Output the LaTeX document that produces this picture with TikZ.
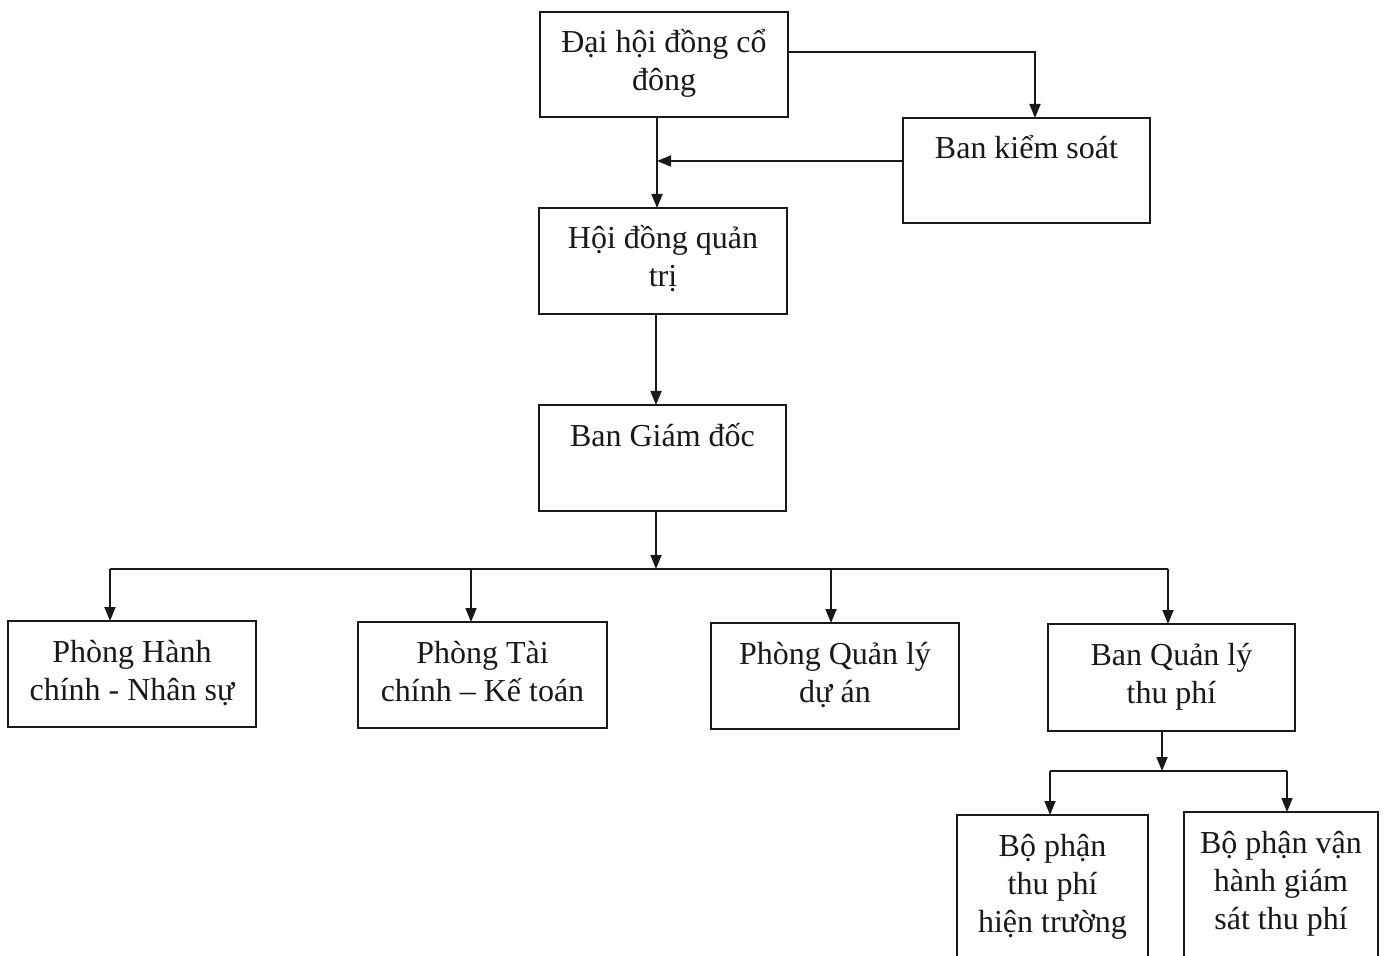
\documentclass[tikz,border=0pt]{standalone}
\usepackage{fontspec}
\setmainfont{Liberation Serif}
\usetikzlibrary{arrows.meta}
\newcommand\bxt[3]{\parbox[c][#2][t]{#1}{\centering\fontsize{16}{19}\selectfont\rule{0pt}{20.5pt}#3}}
\tikzset{
  box/.style={draw=black!90, line width=0.9pt, inner sep=0pt, outer sep=0pt, text=black!90},
  conn/.style={draw=black!90, line width=0.9pt},
  arr/.style={conn, -{Triangle[length=7pt,width=5.5pt]}}
}
\begin{document}
\begin{tikzpicture}[x=0.5pt,y=-0.5pt]
\clip (0,0) rectangle (1395,956);
\fill[white] (0,0) rectangle (1395,956);
% boxes
\node[box] (dh)   at (664,64.5)   {\bxt{124pt}{52.5pt}{Đại hội đồng cổ\\đông}};
\node[box] (bks)  at (1026.5,170.5) {\bxt{123.5pt}{52.5pt}{Ban kiểm soát}};
\node[box] (hdqt) at (663,261)    {\bxt{124pt}{53pt}{Hội đồng quản\\trị}};
\node[box] (bgd)  at (662.5,458)  {\bxt{123.5pt}{53pt}{Ban Giám đốc}};
\node[box] (p1)   at (132,674)    {\bxt{124pt}{53pt}{Phòng Hành\\chính - Nhân sự}};
\node[box] (p2)   at (482.5,675)  {\bxt{124.5pt}{53pt}{Phòng Tài\\chính – Kế toán}};
\node[box] (p3)   at (835,676)    {\bxt{124pt}{53pt}{Phòng Quản lý\\dự án}};
\node[box] (p4)   at (1171.5,677.5) {\bxt{123.5pt}{53.5pt}{Ban Quản lý\\thu phí}};
\node[box] (b1)   at (1052.5,907.5) {\bxt{95.5pt}{92.5pt}{Bộ phận\\thu phí\\hiện trường}};
\node[box] (b2)   at (1281,906)   {\bxt{97pt}{94pt}{Bộ phận vận\\hành giám\\sát thu phí}};
% junction coordinates
\coordinate (c0) at (1035,52);
\coordinate (c1) at (657,161);
\coordinate (c2) at (656,0);
\coordinate (bus) at (656,569);
\coordinate (busL) at (110,569);
\coordinate (busR) at (1168,569);
\coordinate (d2) at (471,569);
\coordinate (d3) at (831,569);
\coordinate (sub) at (1162,771);
\coordinate (subL) at (1050,771);
\coordinate (subR) at (1287,771);
% connectors
\draw[arr] (dh.east |- c0) -- (c0) -- (bks.north -| c0);
\draw[arr] (dh.south -| c1) -- (hdqt.north -| c1);
\draw[arr] (bks.west |- c1) -- (c1);
\draw[arr] (hdqt.south -| c2) -- (bgd.north -| c2);
\draw[arr] (bgd.south -| bus) -- (bus);
\draw[conn] (busL) -- (busR);
\draw[arr] (busL) -- (p1.north -| busL);
\draw[arr] (d2) -- (p2.north -| d2);
\draw[arr] (d3) -- (p3.north -| d3);
\draw[arr] (busR) -- (p4.north -| busR);
\draw[arr] (p4.south -| sub) -- (sub);
\draw[conn] (subL) -- (subR);
\draw[arr] (subL) -- (b1.north -| subL);
\draw[arr] (subR) -- (b2.north -| subR);
\end{tikzpicture}
\end{document}
